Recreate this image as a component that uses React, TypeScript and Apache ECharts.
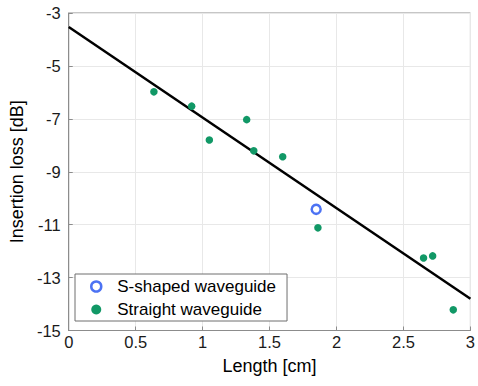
import React, { useEffect, useRef } from "react";
import * as echarts from "echarts";

const straightX = [0.636, 0.918, 1.05, 1.329, 1.382, 1.598, 1.861, 2.65, 2.718, 2.872];
const straightY = [-5.98, -6.52, -7.8, -7.03, -8.21, -8.43, -11.12, -12.26, -12.18, -14.22];
const sShapedX = [1.848];
const sShapedY = [-10.42];
const fitX = [0, 3];
const fitY = [-3.53, -13.8];
const seriesNames = ["S-shaped waveguide", "Straight waveguide"];

const FONT = "'Liberation Sans', Arial, sans-serif";

export default function App() {
  const ref = useRef<HTMLDivElement>(null);
  useEffect(() => {
    if (!ref.current) return;
    const chart = echarts.init(ref.current, undefined, { renderer: "svg" });
    const zip = (xs: number[], ys: number[]) => xs.map((x, i) => [x, ys[i]]);
    chart.setOption({
      animation: false,
      textStyle: { fontFamily: FONT },
      grid: {
        left: 65,
        top: 13,
        right: 1.5,
        bottom: 55.5,
        show: true,
        borderColor: "#8c8c8c",
        borderWidth: 1,
      },
      legend: {
        orient: "vertical",
        left: 75,
        top: 274,
        itemGap: 6,
        itemWidth: 14,
        itemHeight: 10,
        padding: [4, 11, 3, 15],
        borderColor: "#6e6e6e",
        borderWidth: 1,
        backgroundColor: "#fff",
        textStyle: { fontFamily: FONT, fontSize: 17, color: "#000", padding: [0, 0, 0, 9] },
        data: [
          { name: seriesNames[0], icon: "circle", itemStyle: { color: "#fff", borderColor: "#1f4ff0", borderWidth: 2.5 } },
          { name: seriesNames[1], icon: "circle" },
        ],
      },
      xAxis: {
        type: "value",
        min: 0,
        max: 3,
        interval: 0.5,
        name: "Length [cm]",
        nameLocation: "middle",
        nameGap: 26,
        nameTextStyle: { fontFamily: FONT, fontSize: 18, color: "#000" },
        axisLine: { show: true, onZero: false, lineStyle: { color: "#8c8c8c" } },
        axisTick: { show: true, inside: true, length: 4, lineStyle: { color: "#8c8c8c" } },
        axisLabel: { fontFamily: FONT, fontSize: 16.5, color: "#1a1a1a", margin: 3 },
        splitLine: { show: true, lineStyle: { color: "#e8e8e8" } },
      },
      yAxis: {
        type: "value",
        min: -15,
        max: -3,
        interval: 2,
        name: "Insertion loss [dB]",
        nameLocation: "middle",
        nameGap: 34,
        nameTextStyle: { fontFamily: FONT, fontSize: 18, color: "#000" },
        axisLine: { show: true, onZero: false, lineStyle: { color: "#8c8c8c" } },
        axisTick: { show: true, inside: true, length: 4, lineStyle: { color: "#8c8c8c" } },
        axisLabel: { fontFamily: FONT, fontSize: 16.5, color: "#1a1a1a", margin: 8 },
        splitLine: { show: true, lineStyle: { color: "#e8e8e8" } },
      },
      series: [
        {
          name: "fit",
          type: "line",
          data: zip(fitX, fitY),
          showSymbol: false,
          symbol: "none",
          lineStyle: { color: "#000", width: 2.5 },
          z: 2,
          silent: true,
        },
        {
          name: seriesNames[0],
          type: "scatter",
          data: zip(sShapedX, sShapedY),
          symbol: "circle",
          symbolSize: 9,
          itemStyle: { color: "#fff", borderColor: "#1f4ff0", borderWidth: 2.5 },
          z: 3,
        },
        {
          name: seriesNames[1],
          type: "scatter",
          data: zip(straightX, straightY),
          symbol: "circle",
          symbolSize: 7.5,
          itemStyle: { color: "#119866", opacity: 1 },
          z: 3,
        },
      ],
    });
    return () => chart.dispose();
  }, []);
  return <div ref={ref} style={{ width: 478, height: 386, position: "absolute", left: 0, top: 0 }} />;
}
